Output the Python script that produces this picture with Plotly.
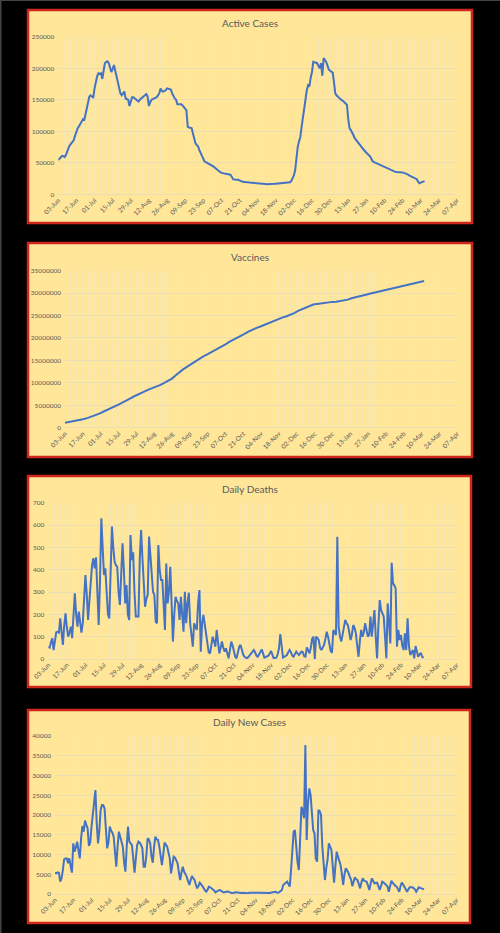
import datetime

import plotly.graph_objects as go

START = datetime.date(2021, 6, 3)
AXIS_DAYS = 308  # 03-Jun to 07-Apr
LABEL_STEP = 14

# daily, 03-Jun onwards
active_cases = [
    54400, 56500, 58000, 61000, 60500, 59000, 63000,
    70000, 74000, 78000, 81000, 83500, 86000, 93000,
    100000, 105000, 108000, 112000, 116000, 119000, 117000,
    128000, 139000, 147000, 155000, 157000, 155000, 153000,
    168000, 181000, 187000, 192000, 191000, 192000, 183000,
    196000, 208000, 210000, 211000, 208000, 200000, 194000,
    199000, 205000, 196000, 187000, 176000, 165000, 160000,
    157000, 160000, 163000, 152000, 151000, 150000, 140000,
    147000, 154000, 154000, 152000, 151000, 149000, 147000,
    150000, 152000, 154000, 156000, 157000, 159000, 155000,
    140000, 146000, 150000, 151000, 152000, 153000, 154000,
    157000, 160000, 168000, 164000, 163000, 164000, 165000,
    168000, 167000, 167000, 166000, 160000, 155000, 152000,
    150000, 143000, 143000, 143000, 143000, 141000, 139000,
    136000, 133000, 107000, 106000, 106000, 105000, 97000,
    89000, 81000, 78000, 76000, 70000, 65000, 60000,
    56000, 52000, 51000, 50000, 49000, 48000, 46000,
    45000, 44000, 42000, 40000, 39000, 37000, 35500,
    34000, 33500, 33000, 32500, 32000, 31500, 31000,
    31000, 28000, 24000, 23500, 23500, 23000, 23000,
    22000, 21000, 20000, 19500, 19500, 19000, 19000,
    18800, 18600, 18500, 18400, 18200, 18000, 17800,
    17600, 17400, 17400, 17000, 16800, 16500, 16300,
    16100, 16000, 16000, 16000, 16200, 16400, 16600,
    16800, 17000, 17200, 17400, 17800, 18200, 18800,
    19200, 19500, 19000, 18800, 19000, 21000, 25000,
    30000, 38000, 58000, 75000, 84000, 91000, 107000,
    123000, 140000, 155000, 165000, 173000, 171000, 185000,
    194000, 210000, 209000, 208000, 208000, 204000, 200000,
    208000, 188000, 216000, 213000, 210000, 204000, 198000,
    196000, 194000, 193000, 178000, 160000, 157000, 154000,
    153000, 151000, 150000, 148000, 146000, 144000, 142000,
    120000, 105000, 102000, 99000, 94000, 89000, 86000,
    83000, 81000, 78000, 76000, 73000, 70000, 68000,
    66000, 64000, 62000, 60000, 56000, 52000, 51000,
    50000, 49000, 48000, 47000, 46000, 45000, 44000,
    43000, 42000, 41000, 40000, 39000, 38000, 37000,
    36000, 36000, 35500, 35500, 35000, 35000, 34500,
    34500, 34000, 33500, 33000, 31500, 30000, 29000,
    28000, 27000, 26000, 25000, 24000, 20000, 17400,
    18500, 19600, 20300, 21000,
]

# every 3 days, 03-Jun onwards
vaccines = [
    1110000, 1250000, 1400000, 1560000, 1750000, 1950000, 2180000, 2450000, 2800000, 3150000,
    3550000, 4000000, 4400000, 4750000, 5150000, 5550000, 6050000, 6500000, 6950000, 7400000,
    7800000, 8150000, 8550000, 8850000, 9200000, 9550000, 10000000, 10450000, 10950000, 11700000,
    12450000, 13050000, 13600000, 14200000, 14800000, 15400000, 15800000, 16250000, 16700000, 17100000,
    17550000, 18050000, 18600000, 19150000, 19550000, 19950000, 20400000, 20900000, 21400000, 21850000,
    22200000, 22500000, 22850000, 23200000, 23550000, 23950000, 24350000, 24600000, 24850000, 25150000,
    25550000, 26050000, 26400000, 26900000, 27200000, 27450000, 27600000, 27750000, 27850000, 27950000,
    28050000, 28100000, 28200000, 28350000, 28550000, 28850000, 29100000, 29300000, 29500000, 29700000,
    29900000, 30100000, 30300000, 30450000, 30600000, 30800000, 30950000, 31150000, 31350000, 31550000,
    31750000, 31950000, 32200000, 32450000, 32700000,
]

# daily, 03-Jun onwards
daily_deaths = [
    55, 51, 75, 93, 40, 93, 120,
    122, 118, 182, 120, 63, 150, 204,
    140, 100, 120, 145, 93, 180, 294,
    200, 145, 212, 160, 118, 160, 300,
    376, 290, 175, 260, 331, 420, 451,
    406, 455, 300, 152, 350, 630, 500,
    376, 406, 300, 200, 182, 400, 593,
    500, 436, 420, 413, 300, 242, 380,
    518, 400, 249, 331, 200, 175, 555,
    443, 478, 300, 190, 190, 190, 450,
    578, 451, 320, 234, 270, 287, 548,
    450, 369, 300, 287, 167, 160, 510,
    400, 354, 354, 200, 130, 428, 249,
    300, 413, 250, 78, 200, 279, 260,
    249, 175, 279, 200, 122, 301, 160,
    250, 297, 160, 100, 55, 160, 140,
    130, 250, 309, 33, 160, 197, 150,
    107, 60, 30, 25, 60, 100, 80,
    55, 130, 80, 25, 50, 78, 50,
    33, 48, 30, 3, 40, 78, 60,
    30, 10, 3, 30, 55, 63, 40,
    20, 10, 5, 3, 10, 18, 25,
    35, 40, 30, 15, 10, 20, 35,
    43, 25, 6, 8, 10, 15, 25,
    36, 20, 3, 5, 6, 20, 48,
    112, 60, 7, 10, 13, 18, 30,
    40, 30, 15, 10, 20, 33, 25,
    18, 25, 33, 30, 12, 10, 52,
    40, 25, 50, 90, 100, 0, 100,
    95, 85, 50, 40, 55, 63, 90,
    122, 100, 60, 35, 28, 130, 120,
    107, 548, 145, 100, 78, 110, 150,
    175, 160, 152, 120, 85, 110, 152,
    140, 115, 60, 10, 80, 130, 100,
    120, 160, 130, 100, 107, 190, 100,
    150, 219, 100, 3, 150, 264, 219,
    200, 190, 100, 3, 249, 150, 70,
    431, 339, 330, 316, 55, 130, 85,
    107, 60, 40, 115, 40, 182, 60,
    18, 30, 40, 3, 58, 35, 10,
    20, 28, 10, 5,
]

# daily, 03-Jun onwards
daily_new_cases = [
    5400, 5230, 5500, 5400, 3120, 3970, 6000,
    8780, 9000, 9030, 7770, 9030, 7000, 5400,
    12830, 10720, 11800, 13250, 11000, 9030, 14000,
    17220, 15780, 18570, 17500, 16630, 12150, 13000,
    17000, 20425, 23500, 26330, 18000, 12830, 16000,
    21270, 22535, 22500, 21690, 17000, 11560, 13000,
    17050, 16040, 15500, 14520, 11000, 6920, 12000,
    15780, 14520, 13000, 11990, 8000, 5650, 12000,
    17050, 13250, 12800, 12400, 9000, 5400, 9000,
    12400, 13250, 13000, 12400, 11560, 6920, 6920,
    9500, 14100, 13800, 12830, 9500, 7930, 12000,
    14520, 13840, 13670, 12000, 9500, 7340, 10000,
    13000, 12500, 11990, 10500, 9030, 5230, 7000,
    9450, 9200, 8500, 7770, 5500, 3540, 5500,
    6920, 5650, 5000, 4390, 3300, 2280, 3500,
    4560, 4000, 3540, 2400, 1430, 2000, 2870,
    2500, 2110, 1500, 900, 590, 1100, 1860,
    1700, 1500, 1270, 900, 420, 600, 850,
    1010, 900, 700, 420, 450, 600, 650,
    590, 450, 200, 170, 300, 400, 420,
    350, 250, 170, 250, 340, 300, 250,
    170, 200, 340, 320, 300, 250, 200,
    170, 200, 300, 340, 330, 340, 300,
    250, 200, 170, 170, 250, 400, 500,
    590, 550, 400, 340, 500, 800, 1010,
    2280, 2600, 2870, 3120, 2500, 1860, 6000,
    11000, 15780, 16200, 12000, 8000, 6080, 16630,
    22110, 21000, 19160, 37730, 13670, 23000, 26750,
    25070, 21000, 16200, 15360, 9000, 8190, 21270,
    21000, 20000, 12000, 6920, 3540, 6500, 8610,
    12830, 11800, 11140, 7000, 2870, 7000, 10720,
    9450, 8500, 7340, 5000, 2280, 5000, 6500,
    6000, 5400, 4390, 3710, 2000, 3000, 4220,
    3710, 3500, 2500, 1430, 3000, 3970, 3380,
    3300, 3120, 2200, 1010, 2500, 3970, 3300,
    2700, 2800, 2870, 2000, 1010, 2000, 3120,
    2900, 2700, 2300, 1860, 590, 2000, 3380,
    2800, 2280, 2100, 1860, 1200, 590, 2000,
    2870, 2400, 1860, 1200, 590, 1200, 1690,
    1690, 1690, 1500, 1180, 590, 1200, 1690,
    1550, 1430, 1300, 1180,
]

# x axis in days since 03-Jun, labelled every 14 days like the original
tick_days = list(range(0, AXIS_DAYS + 1, LABEL_STEP))
tick_labels = [(START + datetime.timedelta(days=d)).strftime('%d-%b') for d in tick_days]


def day_list(n, step=1):
    return [i * step for i in range(n)]


W, H = 500, 933
BLUE = '#4472C4'
YELLOW = '#FFE699'
RED = '#D0261C'
TEXT = '#595959'
HGRID = '#EADDB5'
VGRID = '#F7E7B3'
FONT = 'Lato'

# title, x, y, y max, y step, panel box (x0, y0, x1, y1) px, plot box px, title y px
panels = [
    ('Active Cases', day_list(len(active_cases)), active_cases, 250000, 50000,
     (28, 10, 472, 223), (58.3, 36.7, 457, 194.3), 23),
    ('Vaccines', day_list(len(vaccines), 3), vaccines, 35000000, 5000000,
     (28, 243, 472, 457), (65, 270.7, 457.3, 427.7), 257),
    ('Daily Deaths', day_list(len(daily_deaths)), daily_deaths, 700, 100,
     (28, 476, 471, 687), (48.3, 502.7, 456.7, 659), 489),
    ('Daily New Cases', day_list(len(daily_new_cases)), daily_new_cases, 40000, 5000,
     (28, 710, 470, 923), (55, 736, 456.7, 894), 722),
]

fig = go.Figure()

for i, (title, x, y, ymax, ystep, box, plot, title_y) in enumerate(panels, start=1):
    suffix = '' if i == 1 else str(i)
    fig.add_trace(go.Scatter(
        x=x, y=y, mode='lines',
        line=dict(color=BLUE, width=2),
        xaxis='x' + suffix, yaxis='y' + suffix,
        showlegend=False, hoverinfo='skip',
    ))
    fig.update_layout(**{
        'xaxis' + suffix: dict(
            domain=[plot[0] / W, plot[2] / W], anchor='y' + suffix,
            range=[0, AXIS_DAYS + 0.05],
            tickmode='array', tickvals=tick_days, ticktext=tick_labels,
            tickangle=-45, tickfont=dict(family=FONT, size=6.5, color=TEXT),
            showgrid=True, gridcolor=VGRID, gridwidth=1,
            minor=dict(tickmode='linear', tick0=0, dtick=LABEL_STEP / 3,
                       showgrid=True, gridcolor=VGRID, gridwidth=1),
            showline=False, zeroline=False, ticks='', fixedrange=True,
            automargin=False,
        ),
        'yaxis' + suffix: dict(
            domain=[1 - plot[3] / H, 1 - plot[1] / H], anchor='x' + suffix,
            range=[0, ymax], dtick=ystep, tickformat='d',
            tickfont=dict(family=FONT, size=6.5, color=TEXT),
            showgrid=True, gridcolor=HGRID, gridwidth=1,
            zeroline=True, zerolinecolor=HGRID, zerolinewidth=1,
            showline=False, ticks='', ticklabelstandoff=3, fixedrange=True,
            automargin=False,
        ),
    })
    fig.add_shape(type='rect', xref='paper', yref='paper',
                  x0=box[0] / W, x1=box[2] / W, y0=1 - box[3] / H, y1=1 - box[1] / H,
                  fillcolor=YELLOW, line=dict(color=RED, width=2.5), layer='below')
    fig.add_annotation(text=title, xref='paper', yref='paper',
                       x=(box[0] + box[2]) / 2 / W, y=1 - title_y / H,
                       xanchor='center', yanchor='middle', showarrow=False,
                       font=dict(family=FONT, size=10, color=TEXT))

# thin grey frame on the left and top edges
fig.add_shape(type='line', xref='paper', yref='paper', x0=0, x1=0, y0=0, y1=1,
              line=dict(color='#444444', width=3), layer='below')
fig.add_shape(type='line', xref='paper', yref='paper', x0=0, x1=1, y0=1, y1=1,
              line=dict(color='#444444', width=2), layer='below')

fig.update_layout(
    width=W, height=H,
    margin=dict(l=0, r=0, t=0, b=0, autoexpand=False),
    paper_bgcolor='black',
    plot_bgcolor='rgba(0,0,0,0)',
    font=dict(family=FONT, color=TEXT),
)

# drop the browser's default body margin so the figure sits at 0,0
fig.write_html("out.html", config={'displayModeBar': False},
               post_script="document.body.style.margin = '0';")
